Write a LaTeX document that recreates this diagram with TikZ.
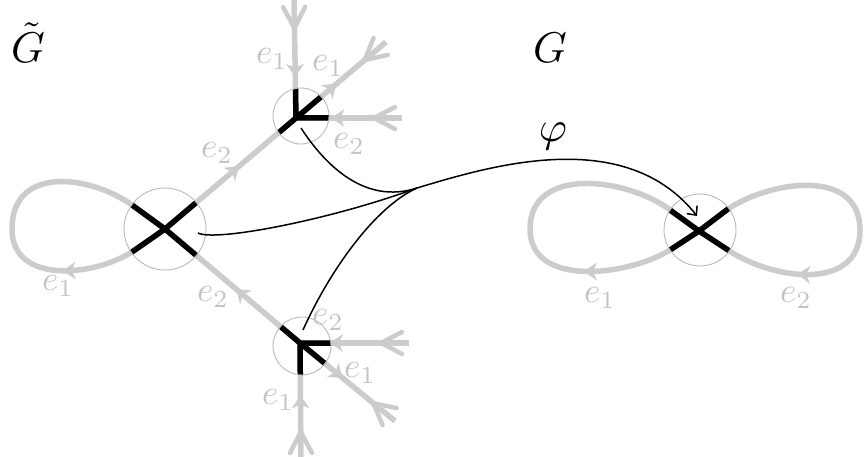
\documentclass[tikz,border=0pt]{standalone}
\usetikzlibrary{calc,arrows.meta,decorations.markings}
\definecolor{edgegray}{RGB}{204,204,204}
\definecolor{circgray}{RGB}{185,185,185}
\definecolor{lblgray}{RGB}{196,196,196}
\newcommand{\tailV}[2]{%
  \draw[tailv] ($(#2)!7pt!(#1)!11pt!90:(#1)$) -- ($(#2)!28pt!(#1)$) -- ($(#2)!7pt!(#1)!11pt!-90:(#1)$);}
\tikzset{
  gedge/.style={draw=edgegray, line width=5.5pt},
  bstroke/.style={draw=black, line width=5.5pt},
  vcirc/.style={draw=circgray, line width=0.9pt, circle, inner sep=0pt},
  tailv/.style={draw=edgegray, line width=4.5pt, line cap=round, line join=round},
  lbl/.style={text=lblgray, scale=3.5, inner sep=0pt},
  ttl/.style={text=black, scale=4.3, inner sep=0pt},
  philine/.style={draw=black, line width=1.5pt},
  fwd/.style={postaction={decorate,decoration={markings,mark=at position #1 with {\fill[edgegray, line join=round] (6pt,0pt) -- (-7pt,9pt) -- (-3pt,0pt) -- (-7pt,-9pt) -- cycle;}}}},
  rev/.style={postaction={decorate,decoration={markings,mark=at position #1 with {\fill[edgegray, line join=round] (-6pt,0pt) -- (7pt,9pt) -- (3pt,0pt) -- (7pt,-9pt) -- cycle;}}}}
}
\begin{document}
\begin{tikzpicture}[x=1pt,y=-1pt]
\useasboundingbox (0,0) rectangle (864,457);
% vertices (junctions)
\coordinate (A) at (165,229);
\coordinate (B) at (296,118);
\coordinate (C) at (300,343);
\coordinate (D) at (699,231);
% stub ends
\coordinate (Bu) at (294,0);
\coordinate (Bur) at (386,42);
\coordinate (Br) at (402,118);
\coordinate (Cr) at (409,343);
\coordinate (Cdr) at (395,421);
\coordinate (Cd) at (301,460);
% gray edges
\draw[gedge, fwd=0.53] (A) -- (B);
\draw[gedge, rev=0.56] (A) -- (C);
\draw[gedge, rev=0.4] (B) -- (Bu);
\draw[gedge, fwd=0.4] (B) -- (Bur);
\draw[gedge, rev=0.39] (B) -- (Br);
\draw[gedge, rev=0.33] (C) -- (Cr);
\draw[gedge, fwd=0.4] (C) -- (Cdr);
\draw[gedge, rev=0.5] (C) -- (Cd);
% tails
\tailV{B}{Bu}
\tailV{B}{Bur}
\tailV{B}{Br}
\tailV{C}{Cr}
\tailV{C}{Cdr}
\tailV{C}{Cd}
% loops
\draw[gedge, fwd=0.28] (A) -- (132,252) .. controls (92,277) and (12,284) .. (12,229) .. controls (12,165) and (90,175) .. (132,205) -- (A);
\draw[gedge, fwd=0.29] (D) -- (670,250) .. controls (628,276) and (530,288) .. (530,229) .. controls (530,165) and (628,178) .. (670,210) -- (D);
\draw[gedge, fwd=0.71] (D) -- (728,209) .. controls (772,180) and (860,168) .. (860,230) .. controls (860,292) and (772,280) .. (728,250) -- (D);
% black strokes inside circles
\begin{scope}
  \clip (165,229) circle[radius=41];
  \draw[bstroke] (A) -- (B) (A) -- (C);
  \draw[bstroke] (A) -- (132,252) .. controls (92,277) and (12,284) .. (12,229) .. controls (12,165) and (90,175) .. (132,205) -- (A);
\end{scope}
\begin{scope}
  \clip (301,116) circle[radius=28];
  \draw[bstroke] (B) -- (A) (B) -- (Bu) (B) -- (Bur) (B) -- (Br);
\end{scope}
\begin{scope}
  \clip (302,346) circle[radius=29];
  \draw[bstroke] (C) -- (A) (C) -- (Cr) (C) -- (Cdr) (C) -- (Cd);
\end{scope}
\begin{scope}
  \clip (700,230) circle[radius=36];
  \draw[bstroke] (D) -- (670,250) .. controls (628,276) and (530,288) .. (530,229) .. controls (530,165) and (628,178) .. (670,210) -- (D);
  \draw[bstroke] (D) -- (728,209) .. controls (772,180) and (860,168) .. (860,230) .. controls (860,292) and (772,280) .. (728,250) -- (D);
\end{scope}
% circles
\node[vcirc, minimum size=82pt] (cA) at (165,229) {};
\node[vcirc, minimum size=56pt] (cB) at (301,116) {};
\node[vcirc, minimum size=58pt] (cC) at (302,346) {};
\node[vcirc, minimum size=72pt] (cD) at (700,230) {};
% phi map
\coordinate (M) at (417,188);
\coordinate (pA) at (198,233);
\coordinate (pB) at (301,128);
\coordinate (pC) at (303,330);
\coordinate (T) at (697,216);
\draw[philine] (pB) .. controls (325,165) and (365,205) .. (M);
\draw[philine] (pA) .. controls (215,242) and (330,220) .. (M);
\draw[philine] (pC) .. controls (330,270) and (375,207) .. (M);
\draw[philine, -{Straight Barb[length=7pt,width=13pt]}] (M) .. controls (490,166) and (625,125) .. (T);
% labels
\node[lbl] (lA1) at (58,286) {$e_1$};
\node[lbl] (lAB) at (217,153) {$e_2$};
\node[lbl] (lAC) at (213,297) {$e_2$};
\node[lbl] (lBu) at (272,59) {$e_1$};
\node[lbl] (lBur) at (328,66) {$e_1$};
\node[lbl] (lBr) at (349,144) {$e_2$};
\node[lbl] (lCr) at (328,320) {$e_2$};
\node[lbl] (lCdr) at (360,373) {$e_1$};
\node[lbl] (lCd) at (278,400) {$e_1$};
\node[lbl] (lD1) at (600,298) {$e_1$};
\node[lbl] (lD2) at (796,298) {$e_2$};
\node[ttl] (phi) at (553,136) {$\varphi$};
\node[ttl] (Gt) at (28,43) {$\tilde{G}$};
\node[ttl] (G) at (550,48) {$G$};
\end{tikzpicture}
\end{document}
